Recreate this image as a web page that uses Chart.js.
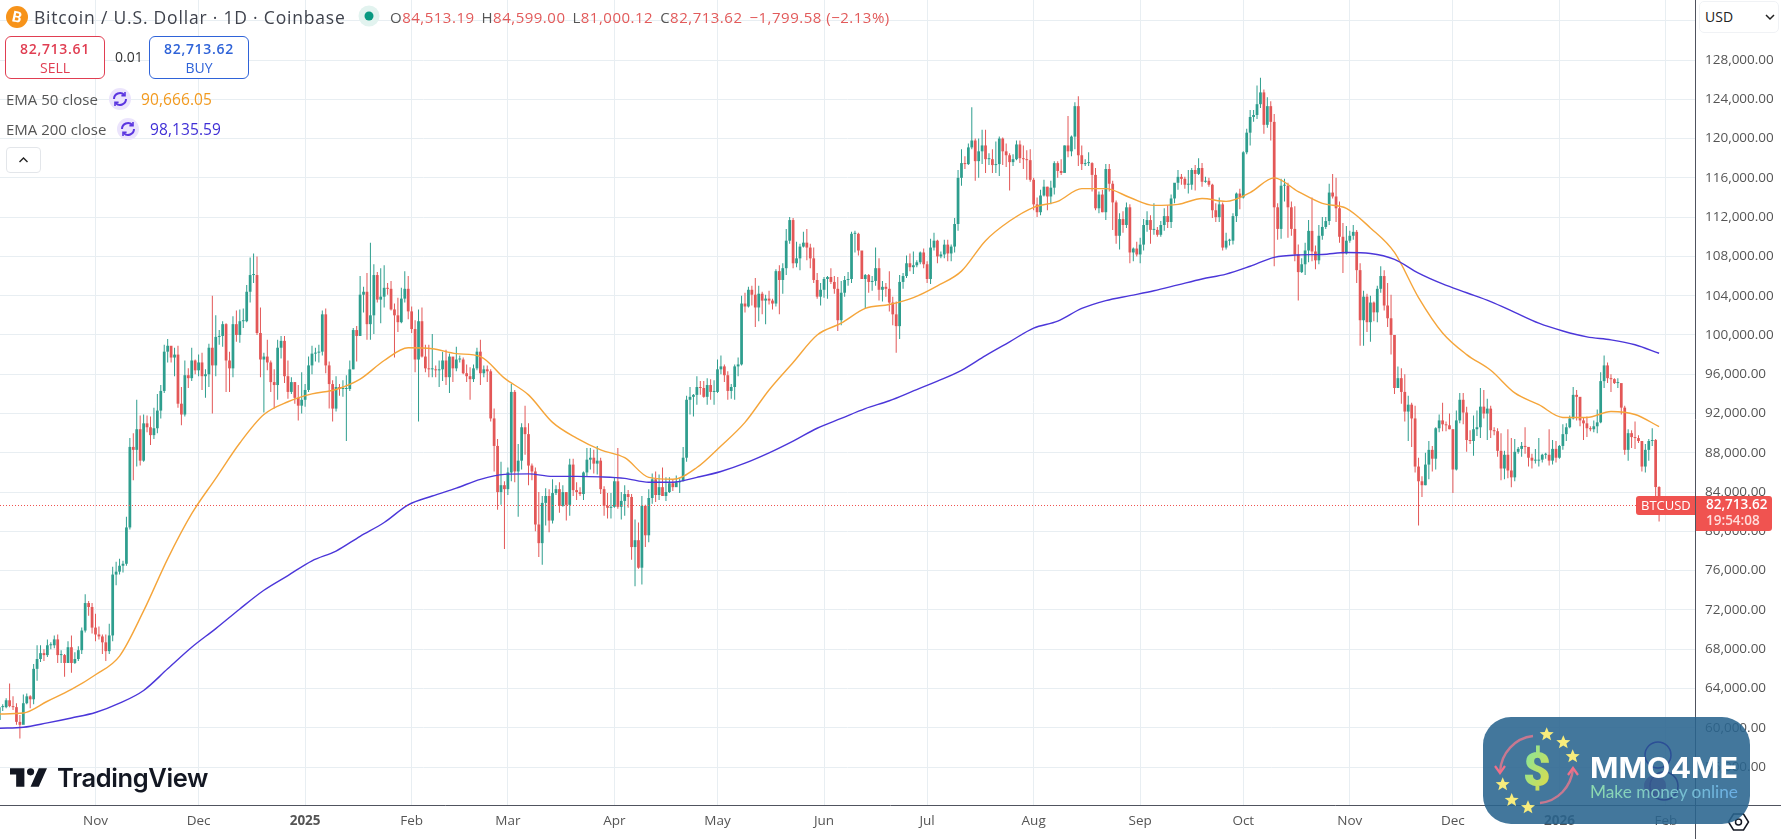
<!DOCTYPE html>
<html>
<head>
<meta charset="utf-8">
<title>BTCUSD 1D</title>
<script src="https://cdn.jsdelivr.net/npm/chart.js@4"></script>
<style>
  html, body { margin: 0; padding: 0; background: #fff; }
  body { position: relative; width: 1781px; height: 839px; overflow: hidden; font-family: "Open Sans", sans-serif; color: #444; }
  canvas { position: absolute; left: 0; top: 0; }
  .abs { position: absolute; white-space: nowrap; }
  .title { left: 34px; top: 5px; font-size: 17.5px; letter-spacing: 0.8px; line-height: 24px; color: #3f424c; }
  .ohlc { left: 390px; top: 7px; font-size: 15px; letter-spacing: 0.5px; line-height: 20px; color: #555; }
  .ohlc b { font-weight: 400; color: #e25a5a; margin-right: 7px; }
  .box { top: 36px; height: 41px; width: 98px; border-radius: 6px; border: 1px solid; text-align: center; background: #fff; }
  .box div { font-size: 14px; letter-spacing: 0.7px; line-height: 20px; margin-top: 2px; font-weight: 600; }
  .box span { font-size: 14px; line-height: 18px; display: block; }
  .sell { left: 5px; color: #e03e52; border-color: #e03e52; }
  .buy { left: 149px; color: #2f63d8; border-color: #2f63d8; }
  .ema { font-size: 15px; line-height: 20px; color: #555; }
  .emav { font-size: 15.5px; letter-spacing: 0.1px; line-height: 20px; }
  .caret { left: 6px; top: 147px; width: 33px; height: 24px; border: 1px solid #e3e6ea; border-radius: 4px; background: #fff; }
  .usd { left: 1699px; top: 1px; width: 78px; height: 30px; border: 1px solid #f0f2f5; border-radius: 5px; background: #fff; font-size: 14px; line-height: 30px; color: #222; text-indent: 5px; }
  .tv { left: 57px; top: 763px; font-family: Inter, sans-serif; font-weight: 600; font-size: 25.5px; line-height: 30px; color: #131722; letter-spacing: -0.4px; }
</style>
</head>
<body>
<canvas id="chart_btc" width="1781" height="839"></canvas>

<svg class="abs" style="left:6px;top:6px" width="22" height="22"><circle cx="11" cy="11" r="11" fill="#f7931a"/><text x="11" y="16" text-anchor="middle" font-family="Roboto" font-weight="700" font-size="15" fill="#fff" transform="rotate(12 11 11)">B</text></svg>
<div class="abs title">Bitcoin / U.S. Dollar · 1D · Coinbase</div>
<svg class="abs" style="left:358px;top:5px" width="22" height="22"><circle cx="11" cy="11" r="10.5" fill="#e2f3ef"/><circle cx="11" cy="11" r="4.5" fill="#089981"/></svg>
<div class="abs ohlc">O<b>84,513.19</b>H<b>84,599.00</b>L<b>81,000.12</b>C<b>82,713.62</b><b>−1,799.58 (−2.13%)</b></div>

<div class="abs box sell"><div>82,713.61</div><span>SELL</span></div>
<div class="abs" style="left:115px;top:47px;font-size:14px;line-height:20px;color:#333">0.01</div>
<div class="abs box buy"><div>82,713.62</div><span>BUY</span></div>

<div class="abs ema" style="left:6px;top:89px">EMA 50 close</div>
<svg class="abs" style="left:109px;top:88px" width="22" height="22"><circle cx="11" cy="11" r="11" fill="#ebe4fc"/><path d="M5 11a6 6 0 0 1 10.3-4.1M17 11a6 6 0 0 1-10.3 4.1" fill="none" stroke="#5b36e0" stroke-width="2"/><path d="M16 4v3.6h-3.6M6 18v-3.6h3.6" fill="none" stroke="#5b36e0" stroke-width="1.6"/></svg>
<div class="abs emav" style="left:141px;top:89px;color:#f29a1f">90,666.05</div>
<div class="abs ema" style="left:6px;top:119px">EMA 200 close</div>
<svg class="abs" style="left:117px;top:118px" width="22" height="22"><circle cx="11" cy="11" r="11" fill="#ebe4fc"/><path d="M5 11a6 6 0 0 1 10.3-4.1M17 11a6 6 0 0 1-10.3 4.1" fill="none" stroke="#5b36e0" stroke-width="2"/><path d="M16 4v3.6h-3.6M6 18v-3.6h3.6" fill="none" stroke="#5b36e0" stroke-width="1.6"/></svg>
<div class="abs emav" style="left:150px;top:119px;color:#3f2fd6">98,135.59</div>
<div class="abs caret"><svg width="33" height="24"><path d="M12.5 14l4-4 4 4" fill="none" stroke="#222" stroke-width="1.4"/></svg></div>

<div class="abs usd">USD<svg style="position:absolute;left:65px;top:12px" width="10" height="7"><path d="M1 1l4 4 4-4" fill="none" stroke="#222" stroke-width="1.5"/></svg></div>

<svg class="abs" style="left:10px;top:768px" width="37" height="20" viewBox="0 0 36 19"><path d="M14 0H0v6h6v12h8V0Zm14 18h-8L28 0h8l-8 18Z" fill="#131722"/><circle cx="20" cy="3.5" r="3.5" fill="#131722"/></svg>
<div class="abs tv">TradingView</div>

<svg class="abs" style="left:1723px;top:810px" width="32" height="24"><path d="M9.5 4h10l5 8-5 8h-10l-5-8z" fill="none" stroke="#131722" stroke-width="1.5" transform="translate(1 0)"/><circle cx="15.5" cy="12" r="3" fill="none" stroke="#131722" stroke-width="1.5"/></svg>

<svg class="abs" style="left:1483px;top:717px" width="267" height="107" viewBox="0 0 267 107">
  <defs>
    <linearGradient id="dollarFill" x1="0" y1="0" x2="1" y2="1"><stop offset="0" stop-color="#79e8a8"/><stop offset="1" stop-color="#ecd93c"/></linearGradient>
    <linearGradient id="tagFill" x1="0" y1="0" x2="1" y2="0"><stop offset="0" stop-color="#8edcae"/><stop offset="1" stop-color="#6aaee6"/></linearGradient>
    <polygon id="star" points="0,-7 2,-2.2 7,-2 3.1,1.1 4.4,6 0,3.3 -4.4,6 -3.1,1.1 -7,-2 -2,-2.2" fill="#f8ec7c"/>
  </defs>
  <rect width="267" height="107" rx="28" fill="rgba(41,100,142,0.88)"/>
  <circle cx="175" cy="38" r="13" fill="none" stroke="#2c4f96" stroke-width="1.5"/>
  <circle cx="181" cy="69" r="14" fill="none" stroke="#2c4f8c" stroke-width="1.5"/>
  <circle cx="172" cy="69" r="11" fill="#39598f" opacity="0.7"/>
  <path d="M50 19C32 21 18 36 17 55" fill="none" stroke="#c77890" stroke-width="2.4"/>
  <path d="M12 49l5 7 5-7" fill="none" stroke="#f0708a" stroke-width="2.2"/>
  <path d="M57 86C75 84 88 70 90 52" fill="none" stroke="#c77890" stroke-width="2.4"/>
  <path d="M85 58l5-7 5 7" fill="none" stroke="#f0708a" stroke-width="2.2"/>
  <use href="#star" x="63.7" y="17.3"/><use href="#star" x="80.3" y="25.3"/><use href="#star" x="89.7" y="39.3"/>
  <use href="#star" x="19.7" y="67.3"/><use href="#star" x="28.7" y="83"/><use href="#star" x="45" y="90.3"/>
  <text x="54" y="69" text-anchor="middle" font-family="Roboto" font-weight="900" font-size="48" fill="url(#dollarFill)">$</text>
  <text x="107" y="61" font-family="Inter" font-weight="700" font-size="28" fill="#fff" textLength="148" lengthAdjust="spacingAndGlyphs">MMO4ME</text>
  <text x="107" y="81" font-family="Lato" font-size="18" fill="url(#tagFill)" textLength="148" lengthAdjust="spacingAndGlyphs">Make money online</text>
</svg>

<script>
// prices in thousands of USD, one candle per day from 4 Oct 2024
const firstOpen = 60.8;

const closes = [
  62.1,62.1,62.8,62.2,62.1,60.6,60.3,62.5,63.2,62.9,66.0,67.0,67.6,67.4,68.4,68.4,69.0,67.4,67.4,66.6,68.2,66.6,67.0,67.9,69.9,72.7,72.3,70.2,
  69.5,69.3,68.7,67.8,69.4,75.6,75.9,76.5,76.7,80.4,88.6,88.3,90.4,87.2,91.0,90.6,89.8,90.5,92.3,94.3,98.3,98.9,97.7,98.0,93.0,91.9,95.9,95.6,97.4,96.4,
  97.2,95.8,96.0,98.7,96.9,99.8,99.9,101.1,97.4,96.6,101.1,100.0,101.4,101.4,104.4,106.1,106.1,100.2,97.5,97.8,97.2,95.2,94.9,98.7,99.4,95.8,94.2,95.2,93.6,92.8,93.4,
  94.4,96.9,98.1,98.2,98.3,102.1,96.9,95.0,92.5,94.7,94.5,94.5,94.5,96.5,100.5,99.9,104.1,104.4,101.1,102.0,106.1,103.6,103.9,104.8,104.7,102.6,102.0,101.3,103.7,104.7,102.4,
  100.6,97.5,101.4,97.8,96.6,96.5,96.5,96.4,96.5,97.4,95.7,97.8,96.6,97.5,97.5,96.1,95.8,95.5,96.6,98.3,96.1,96.5,96.3,91.5,88.7,84.0,84.7,84.3,
  86.0,94.2,86.1,87.2,90.6,89.9,86.7,86.1,80.7,78.8,82.9,83.6,81.1,83.9,84.3,82.6,84.0,82.7,86.8,84.2,84.0,83.8,86.0,87.3,87.5,86.9,87.2,84.3,82.6,82.4,82.5,
  85.1,82.5,83.1,83.8,83.5,78.4,79.1,76.3,82.6,79.6,83.4,85.3,83.7,84.5,83.6,84.0,84.9,84.5,85.0,85.1,87.5,93.4,93.7,93.9,94.7,94.6,93.7,94.9,94.2,94.2,
  96.5,96.8,95.9,94.3,94.7,96.8,97.0,103.2,102.9,104.6,104.1,102.8,104.2,103.5,103.7,103.5,103.2,106.5,105.6,106.8,109.6,111.7,107.3,107.8,109.0,109.4,108.9,107.8,105.6,103.9,104.6,
  105.7,105.9,105.4,104.7,101.5,104.3,105.6,105.7,110.3,110.3,108.6,105.7,106.1,105.4,105.5,106.8,104.6,104.9,104.7,103.3,102.1,100.9,105.4,106.0,107.3,106.9,107.1,107.4,108.4,107.2,
  105.7,108.9,109.6,108.0,108.2,109.2,108.3,109.0,111.3,116.0,117.5,117.4,119.1,119.8,117.7,118.7,119.3,117.9,117.9,117.3,117.4,120.0,118.7,118.3,117.6,117.9,119.4,118.0,117.9,117.8,115.8,
  113.3,112.5,114.2,115.1,114.1,115.0,117.5,116.7,116.5,119.3,118.7,120.2,123.3,118.3,117.4,117.5,117.5,116.3,112.9,114.3,112.5,116.9,115.4,113.5,110.1,111.8,111.2,113.0,108.4,108.8,108.2,
  109.2,111.2,111.7,110.7,110.7,110.2,111.2,112.1,111.5,113.9,115.5,116.1,115.9,115.3,115.3,116.8,116.4,117.0,115.6,115.7,115.3,112.7,112.0,113.3,108.9,109.6,109.6,112.1,114.4,114.0,
  118.6,120.6,122.2,122.4,123.5,124.7,121.4,123.3,121.7,113.0,110.8,115.2,115.2,113.0,110.8,108.2,106.4,107.2,108.6,110.6,108.5,107.6,110.1,111.0,111.6,114.5,114.1,112.9,110.0,108.3,109.6,
  110.1,110.5,106.6,101.5,103.9,101.3,103.3,102.3,104.7,106.0,103.0,101.7,100.0,94.6,95.6,94.2,92.2,92.9,91.5,86.6,85.1,84.7,86.8,88.3,87.4,90.5,91.3,90.9,90.8,90.4,
  86.3,91.3,93.4,92.1,89.3,89.2,90.4,90.6,92.7,92.0,92.5,90.3,90.2,88.2,86.4,87.8,86.2,85.5,88.1,88.4,88.7,88.6,87.5,87.2,87.2,87.3,87.8,87.8,87.2,88.4,87.5,
  88.7,89.9,90.6,91.5,93.9,93.7,91.3,91.0,90.5,90.4,90.7,91.1,95.3,96.9,95.6,95.5,95.1,95.1,92.6,88.3,90.0,89.6,89.5,89.2,86.6,88.3,89.2,89.3,84.51319,82.71362
];

const highs = [
  62.3,62.4,63.0,64.5,63.2,62.5,61.3,63.4,63.5,63.3,66.5,68.4,68.4,68.0,69.0,68.7,69.4,69.5,67.9,67.5,68.8,69.4,67.7,68.3,70.2,73.6,72.9,72.7,
  71.6,70.3,69.5,69.5,70.6,76.4,76.9,77.2,77.0,81.5,89.5,90.0,93.4,91.8,91.9,91.8,91.7,92.6,94.0,94.9,99.0,99.6,98.8,98.7,98.9,94.7,97.4,96.6,98.7,97.5,
  98.0,98.2,96.5,99.1,104.0,102.0,100.5,101.4,101.2,98.3,101.9,102.5,102.6,102.7,105.1,107.9,108.3,108.0,102.8,98.2,99.5,97.4,96.5,99.5,99.9,99.9,97.4,95.7,95.2,94.9,96.2,
  95.0,97.8,98.9,98.7,99.0,102.5,102.7,97.3,95.4,95.8,95.0,95.4,95.9,97.4,100.7,100.9,106.0,104.9,106.3,109.4,107.2,106.4,106.8,107.1,105.3,105.5,103.2,103.8,104.8,106.5,106.0,
  102.9,101.5,102.6,102.8,99.0,99.0,100.1,96.9,97.4,98.3,98.5,98.1,97.2,98.8,97.9,97.7,97.0,96.7,97.0,98.7,99.5,96.9,96.9,96.5,92.5,89.4,87.1,85.1,
  86.5,95.0,94.4,88.9,91.0,92.8,91.0,86.9,86.5,84.0,83.6,84.4,84.3,85.3,84.7,85.0,84.7,84.0,87.4,87.4,85.0,84.5,86.1,88.5,88.5,88.3,88.7,87.5,84.6,83.9,83.9,
  85.5,88.5,84.0,84.7,84.2,83.8,81.2,80.9,83.6,82.7,84.3,85.9,86.1,85.8,86.5,85.5,85.5,85.3,85.7,85.4,88.6,93.8,94.7,94.0,95.8,95.3,95.3,95.6,95.5,95.4,
  97.5,97.9,97.0,96.3,95.0,97.0,97.7,104.0,104.3,104.9,105.0,105.8,105.0,104.4,104.1,104.5,103.7,106.7,107.1,107.3,110.8,112.0,111.9,109.5,109.3,110.5,110.8,109.3,108.9,106.3,105.3,
  105.9,106.0,106.8,106.0,105.9,105.5,106.0,106.4,110.5,110.6,110.4,108.5,106.2,106.2,106.0,108.9,107.8,105.5,105.3,106.5,103.9,103.4,106.1,106.3,108.1,108.3,108.5,107.6,108.5,108.8,
  107.5,109.8,110.4,109.7,108.5,109.7,109.7,109.2,111.9,116.8,118.9,118.2,119.5,123.2,120.0,120.0,120.9,120.9,118.5,118.9,119.7,120.2,120.1,119.5,118.5,118.4,119.8,119.8,119.3,118.8,118.9,
  116.0,114.0,114.8,115.8,115.1,115.7,117.7,117.7,117.9,119.3,122.3,120.3,123.7,124.3,119.3,117.9,118.6,117.6,117.0,114.6,114.8,117.4,117.4,115.7,113.7,112.4,112.6,113.5,113.3,108.9,109.5,
  109.9,111.8,112.6,112.2,113.4,111.0,111.6,112.9,113.2,114.3,115.4,116.8,116.4,116.1,116.8,117.0,117.3,118.0,117.5,116.1,116.0,115.4,113.4,114.0,113.5,110.4,109.8,112.4,114.5,114.9,
  118.7,121.0,122.9,122.9,125.4,126.2,125.0,124.2,123.8,122.5,113.4,115.9,115.9,115.5,113.6,113.1,109.2,107.8,109.4,111.7,114.0,109.1,111.2,112.0,112.0,115.4,116.4,116.0,113.6,111.4,111.1,
  110.6,111.2,110.7,107.3,104.5,104.2,104.0,103.4,105.0,107.0,106.6,105.3,104.1,99.8,96.8,96.6,96.0,93.8,93.1,92.8,87.5,85.6,88.0,89.2,88.7,90.6,91.9,93.1,91.2,92.0,
  90.4,92.3,94.1,94.1,92.7,90.3,91.8,92.3,94.6,94.4,93.5,92.8,90.6,90.5,90.0,88.2,90.4,89.5,89.4,88.6,89.1,90.6,88.0,87.9,88.4,89.5,87.9,88.0,90.4,89.3,89.2,
  88.8,90.9,91.0,91.8,94.7,94.4,93.5,91.6,91.7,90.7,91.3,92.4,96.2,97.9,97.2,96.0,95.6,95.6,93.4,92.8,90.4,90.3,91.2,89.8,89.2,88.9,89.4,90.5,89.4,84.599
];

const lows = [
  60.5,61.7,62.0,62.1,61.8,60.3,58.9,60.4,62.4,62.0,62.4,64.8,66.7,66.8,67.2,68.0,68.1,66.6,66.6,65.2,66.6,65.6,66.5,66.8,67.5,69.7,71.4,69.6,
  68.8,69.0,67.5,66.8,67.5,68.8,74.5,75.6,75.8,76.5,80.2,85.2,86.6,86.7,87.1,90.1,88.8,89.4,90.0,91.5,94.1,97.2,97.2,95.8,92.6,90.8,91.7,94.6,95.3,96.0,
  95.8,94.4,93.6,94.7,92.0,95.8,99.0,98.8,94.2,94.2,95.7,99.3,99.2,100.7,101.3,103.3,105.3,100.0,95.7,92.1,96.4,94.2,92.5,93.4,97.6,95.1,93.5,94.0,93.0,91.3,92.0,
  92.7,94.2,96.0,97.3,97.2,97.9,96.1,92.5,91.2,92.2,93.8,93.7,89.2,94.3,96.5,97.3,99.9,102.3,99.5,99.5,100.1,103.3,101.2,102.8,104.1,102.5,97.7,100.3,101.2,103.3,101.6,
  100.2,96.2,91.2,97.7,96.2,95.7,95.7,95.7,94.7,95.3,94.9,94.1,95.2,96.3,97.2,96.0,95.2,93.4,95.2,96.4,94.9,95.7,95.2,91.2,86.1,82.2,82.7,78.2,
  83.7,85.1,85.0,81.5,86.3,87.8,84.7,85.2,80.0,77.4,76.6,80.6,79.9,80.8,83.7,81.9,82.5,81.1,81.6,83.6,83.2,83.6,83.2,85.6,86.3,85.9,85.8,83.8,81.6,81.3,81.3,
  82.4,82.3,81.2,81.6,82.4,77.1,74.4,76.2,74.6,78.4,78.9,82.8,83.0,83.2,83.6,83.1,83.9,84.1,84.6,83.9,85.1,87.1,91.9,91.7,92.9,93.9,93.6,92.9,93.4,92.9,
  94.1,96.0,95.2,93.4,93.5,93.4,95.8,96.9,102.3,102.8,103.0,100.8,101.4,102.1,101.1,103.1,102.6,102.9,102.1,104.2,106.1,109.3,106.8,106.9,106.6,108.9,107.6,106.8,105.3,103.7,103.0,
  103.8,103.7,105.2,104.2,100.4,101.0,103.9,105.0,105.3,108.4,108.1,105.7,102.7,104.3,104.5,105.0,103.5,103.4,103.9,102.4,101.0,98.2,99.6,104.7,105.8,106.5,106.2,106.9,107.2,106.8,
  105.3,105.2,108.6,107.3,107.8,107.8,107.5,107.5,108.4,110.6,115.2,116.9,117.3,118.9,115.7,116.0,117.4,116.5,117.3,116.5,116.5,116.2,117.3,117.1,114.7,117.2,117.8,117.5,116.9,115.8,115.6,
  112.7,112.0,112.2,114.1,112.7,113.3,114.3,116.0,116.3,116.6,118.1,118.2,118.9,117.2,116.8,117.2,117.2,114.6,112.7,112.4,112.5,111.7,114.6,110.7,109.3,108.7,110.4,110.9,107.3,107.5,108.0,
  107.3,108.6,110.5,109.3,110.2,110.0,110.0,110.6,110.9,110.9,113.4,114.8,115.3,114.9,114.4,114.8,114.7,116.3,115.1,115.5,115.1,111.9,111.5,111.5,108.6,108.7,109.1,109.2,111.5,112.8,
  113.9,118.4,119.3,121.7,122.0,123.1,120.5,121.1,119.8,107.0,109.7,109.8,113.6,109.9,110.1,107.5,103.5,106.3,106.1,107.4,107.5,106.7,107.2,109.7,110.8,111.2,113.9,111.5,109.4,106.3,108.2,
  109.4,109.7,105.3,98.9,98.9,100.3,99.3,101.4,101.3,104.3,102.5,100.8,98.0,94.0,94.6,93.0,91.2,89.2,88.6,86.0,80.6,83.5,84.7,85.3,86.1,86.3,90.1,90.2,90.2,90.4,
  83.9,86.2,91.0,90.9,88.1,88.9,87.7,89.7,89.5,91.5,89.3,89.5,89.8,87.6,85.2,85.3,85.4,84.5,85.1,87.9,87.6,87.9,86.6,86.4,86.9,86.6,87.0,87.4,86.7,86.8,87.0,
  87.4,88.3,89.2,90.5,91.4,91.3,90.7,89.3,89.6,90.2,90.1,90.0,91.0,94.6,95.1,94.2,95.0,94.6,91.9,87.8,87.2,88.5,88.4,89.0,86.1,86.0,87.2,88.7,83.3,81.0
];

// EMA readings, one per week of candles
const emaStep = 7;
const ema50 = [
  61.4,61.5,62.7,63.9,65.4,67.3,71.9,77.2,81.8,85.4,89.0,91.9,93.2,94.0,94.45,95.5,97.4,98.7,98.6,98.1,97.8,95.6,93.9,91.1,89.5,88.3,87.5,85.5,85.3,86.5,
  88.7,91.1,94.4,97.2,100.0,101.2,102.7,103.1,103.8,105.0,106.5,109.6,111.6,113.0,113.6,114.9,114.9,114.0,113.2,113.3,113.9,113.6,114.5,116.0,114.6,113.4,112.9,
  110.9,108.4,103.8,100.2,98.0,96.4,94.1,92.9,91.6,91.6,92.2,91.9,90.666
];
const ema200 = [
  59.95,60.05,60.5,61.0,61.55,62.5,63.8,66.0,68.2,70.1,72.1,74.0,75.5,77.0,78.0,79.5,80.9,82.7,83.6,84.4,85.3,85.8,85.85,85.6,85.6,85.55,85.4,85.0,85.0,85.5,
  86.1,86.95,88.0,89.2,90.5,91.5,92.5,93.3,94.3,95.3,96.4,97.9,99.3,100.7,101.4,102.7,103.5,104.0,104.5,105.1,105.7,106.2,107.0,107.9,108.15,108.2,108.4,
  108.3,107.7,106.3,105.2,104.3,103.4,102.3,101.2,100.4,99.8,99.5,99.0,98.136
];

// x axis: candle index of each month start
const monthIndex = [28,58,89,120,148,179,209,240,270,301,332,362,393,423,454,485];
const monthLabels = ['Nov','Dec','2025','Feb','Mar','Apr','May','Jun','Jul','Aug','Sep','Oct','Nov','Dec','2026','Feb'];
const priceTicks = [56,60,64,68,72,76,80,84,88,92,96,100,104,108,112,116,120,124,128,132];

const UP = '#2e9e8e';
const DOWN = '#e35757';
const AXIS = '#50535e';
const GRID = '#e8eef2';
const LAST = '#f05350';

const lastClose = closes[closes.length - 1];
const opens = closes.map((c, i) => i === 0 ? firstOpen : closes[i - 1]);
const candleColors = closes.map((c, i) => c >= opens[i] ? UP : DOWN);
const money = v => (v * 1000).toLocaleString('en-US', { minimumFractionDigits: 2, maximumFractionDigits: 2 });

// axis lines, last price line and the red price tags
const overlay = {
  id: 'overlay',
  afterDraw(chart) {
    const { ctx, chartArea, scales } = chart;
    const y = Math.round(scales.y.getPixelForValue(lastClose));
    ctx.save();
    ctx.strokeStyle = LAST;
    ctx.lineWidth = 1;
    ctx.setLineDash([1, 2]);
    ctx.beginPath();
    ctx.moveTo(0, y + 0.5);
    ctx.lineTo(chartArea.right, y + 0.5);
    ctx.stroke();
    ctx.setLineDash([]);

    ctx.fillStyle = LAST;
    ctx.beginPath();
    ctx.roundRect(1636, y - 9, 60, 19, [3, 0, 0, 3]);
    ctx.roundRect(1695, y - 9, 77, 35, [0, 3, 3, 0]);
    ctx.fill();
    ctx.fillStyle = '#fff';
    ctx.textBaseline = 'middle';
    ctx.textAlign = 'left';
    ctx.font = '13px "Open Sans"';
    ctx.fillText('BTCUSD', 1641, y + 1);
    ctx.font = '600 13.5px "Open Sans"';
    ctx.fillText(money(lastClose), 1706, y);
    ctx.fillStyle = '#ffdcdb';
    ctx.fillText('19:54:08', 1706, y + 16);

    ctx.strokeStyle = AXIS;
    ctx.lineWidth = 1;
    ctx.beginPath();
    ctx.moveTo(0, chartArea.bottom + 0.5);
    ctx.lineTo(1781, chartArea.bottom + 0.5);
    ctx.moveTo(chartArea.right + 0.5, 0);
    ctx.lineTo(chartArea.right + 0.5, 839);
    ctx.stroke();
    ctx.restore();
  }
};

new Chart(document.getElementById('chart_btc'), {
  type: 'bar',
  plugins: [overlay],
  data: {
    datasets: [
      {
        type: 'line',
        label: 'EMA 200 close',
        data: ema200.map((y, k) => ({ x: k * emaStep, y })),
        borderColor: '#4b36d9',
        borderWidth: 1.4,
        pointRadius: 0,
        cubicInterpolationMode: 'monotone',
        order: 0
      },
      {
        type: 'line',
        label: 'EMA 50 close',
        data: ema50.map((y, k) => ({ x: k * emaStep, y })),
        borderColor: '#f5a53a',
        borderWidth: 1.4,
        pointRadius: 0,
        cubicInterpolationMode: 'monotone',
        order: 0
      },
      {
        label: 'body',
        data: closes.map((c, i) => ({ x: i, y: [opens[i], c] })),
        backgroundColor: candleColors,
        grouped: false,
        barPercentage: 1,
        maxBarThickness: 3,
        minBarLength: 1,
        order: 1
      },
      {
        label: 'wick',
        data: closes.map((c, i) => ({ x: i, y: [lows[i], highs[i]] })),
        backgroundColor: candleColors,
        grouped: false,
        barPercentage: 1,
        maxBarThickness: 1,
        order: 2
      }
    ]
  },
  options: {
    responsive: false,
    animation: false,
    layout: { padding: 0 },
    plugins: { legend: { display: false }, tooltip: { enabled: false } },
    scales: {
      x: {
        type: 'linear',
        offset: false,
        min: 0.21,
        max: 493.45,
        grid: { color: GRID, offset: false, drawTicks: false },
        border: { display: false },
        afterBuildTicks: s => { s.ticks = monthIndex.map(value => ({ value })); },
        afterFit: s => { s.height = 34; s.paddingLeft = 0; s.paddingRight = 0; },
        ticks: {
          autoSkip: false,
          maxRotation: 0,
          padding: 8,
          color: '#555',
          font: ctx => ({ family: 'Open Sans', size: 13.5, weight: /^\d/.test(monthLabels[monthIndex.indexOf(ctx.tick && ctx.tick.value)] || '') ? 700 : 400 }),
          callback: v => monthLabels[monthIndex.indexOf(v)]
        }
      },
      y: {
        position: 'right',
        min: 52.135,
        max: 134.11,
        grid: { color: GRID, drawTicks: false },
        border: { display: false },
        afterBuildTicks: s => { s.ticks = priceTicks.map(value => ({ value })); },
        afterFit: s => { s.width = 86; s.paddingTop = 0; s.paddingBottom = 0; },
        ticks: {
          padding: 10,
          color: '#555',
          font: { family: 'Open Sans', size: 13.5 },
          callback: v => v === 132 ? '' : money(v)
        }
      }
    }
  }
});
</script>
</body>
</html>
